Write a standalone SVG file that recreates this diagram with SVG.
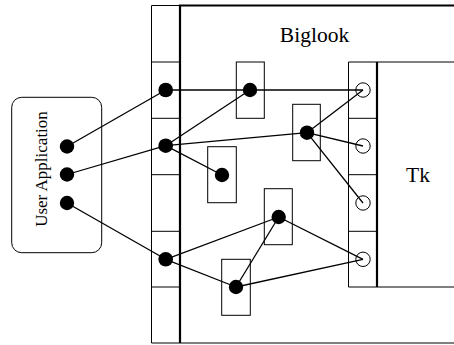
<svg xmlns="http://www.w3.org/2000/svg" width="454" height="345" viewBox="0 0 454 345">
  <style>
    .thin { fill: none; stroke: #000; stroke-width: 1; }
    .thick { fill: none; stroke: #000; stroke-width: 2.2; }
    .wire { fill: none; stroke: #000; stroke-width: 1.3; }
    .dot { fill: #000; }
    .port { fill: none; stroke: #000; stroke-width: 1; }
    text { fill: #000; font-family: "Times New Roman", "Liberation Serif", "DejaVu Serif", Times, serif; }
  </style>

  <!-- Biglook frame -->
  <g id="biglook">
    <path class="thin" d="M151.5,343 V5.5 H180 M151.5,343 H454"/>
    <path class="thick" d="M180,343 V5.5 H454"/>
    <path class="thin" d="M151.5,62 H180 M151.5,118.3 H180 M151.5,174.7 H180 M151.5,231.3 H180 M151.5,287 H180"/>
    <text x="314.5" y="41.5" font-size="21.5" text-anchor="middle">Biglook</text>
  </g>

  <!-- Tk frame -->
  <g id="tk">
    <path class="thin" d="M454,62 H348.5 V287 H454"/>
    <path class="thin" d="M348.5,118.3 H377 M348.5,174.7 H377 M348.5,231.3 H377"/>
    <path class="thick" d="M377,62 V287"/>
    <text x="406" y="181.5" font-size="21.5">Tk</text>
  </g>

  <!-- User application -->
  <g id="user-application">
    <rect class="thin" x="11.7" y="97.3" width="90" height="155.4" rx="10" ry="10"/>
    <text font-size="17" text-anchor="middle" transform="translate(46.5,169) rotate(-90)">User Application</text>
  </g>

  <!-- Widget boxes -->
  <g id="box1"><rect class="thin" x="236.3" y="62" width="28" height="56.3"/></g>
  <g id="box2"><rect class="thin" x="292.7" y="104.3" width="27.6" height="56.4"/></g>
  <g id="box3"><rect class="thin" x="207.7" y="146.7" width="28.6" height="56"/></g>
  <g id="box4"><rect class="thin" x="264.3" y="188.7" width="28" height="56"/></g>
  <g id="box5"><rect class="thin" x="221.7" y="259.3" width="28.6" height="56"/></g>

  <!-- Connectors -->
  <g id="connectors">
    <path class="wire" d="M67,146.5 L165.7,90"/>
    <path class="wire" d="M67,174.5 L165.7,145.7"/>
    <path class="wire" d="M67,203 L165.7,259.3"/>
    <path class="wire" d="M165.7,90 H363"/>
    <path class="wire" d="M165.7,145.7 L250,90"/>
    <path class="wire" d="M165.7,145.7 L307,132.7"/>
    <path class="wire" d="M165.7,145.7 L222,175"/>
    <path class="wire" d="M307,132.7 L363,90"/>
    <path class="wire" d="M307,132.7 L363,146"/>
    <path class="wire" d="M307,132.7 L363,203"/>
    <path class="wire" d="M165.7,259.3 L278.7,217"/>
    <path class="wire" d="M165.7,259.3 L236,287"/>
    <path class="wire" d="M278.7,217 L236,287"/>
    <path class="wire" d="M278.7,217 L363,259.3"/>
    <path class="wire" d="M236,287 L363,259.3"/>
  </g>

  <!-- Dots and ports -->
  <g id="app-ports">
    <circle class="dot" cx="67" cy="146.5" r="7.2"/>
    <circle class="dot" cx="67" cy="174.5" r="7.2"/>
    <circle class="dot" cx="67" cy="203" r="7.2"/>
  </g>
  <g id="biglook-ports">
    <circle class="dot" cx="165.7" cy="90" r="7.3"/>
    <circle class="dot" cx="165.7" cy="145.7" r="7.3"/>
    <circle class="dot" cx="165.7" cy="259.3" r="7.3"/>
  </g>
  <g id="box-dots">
    <circle class="dot" cx="250" cy="90" r="7.2"/>
    <circle class="dot" cx="307" cy="132.7" r="7.2"/>
    <circle class="dot" cx="222" cy="175" r="7.2"/>
    <circle class="dot" cx="278.7" cy="217" r="7.2"/>
    <circle class="dot" cx="236" cy="287" r="7.2"/>
  </g>
  <g id="tk-ports">
    <circle class="port" cx="363" cy="90" r="7.2"/>
    <circle class="port" cx="363" cy="146" r="7.2"/>
    <circle class="port" cx="363" cy="203" r="7.2"/>
    <circle class="port" cx="363" cy="259.3" r="7.2"/>
  </g>
</svg>
